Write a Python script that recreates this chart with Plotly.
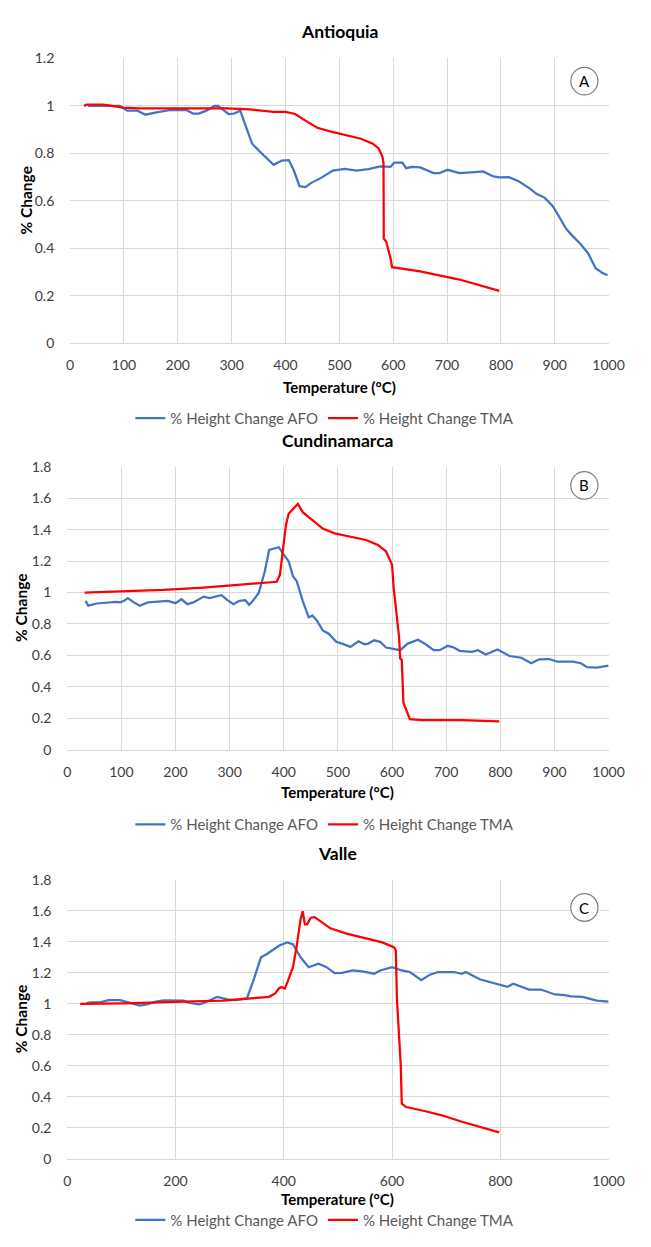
import plotly.graph_objects as go

# ---------------- Data ----------------
# Panel A - Antioquia
a_afo_t = [33, 92, 106, 125, 140, 158, 187, 217, 228, 239, 253, 268, 275, 294, 305, 316, 327, 338, 356, 378,
           393, 406, 415, 426, 437, 448, 466, 488, 510, 532, 554, 576, 595, 602, 617, 624, 635, 650, 675, 686,
           701, 723, 745, 767, 786, 797, 815, 833, 852, 866, 881, 896, 907, 921, 932, 947, 962, 976, 988, 998]
a_afo_v = [1.0, 1.0, 0.98, 0.98, 0.963, 0.972, 0.983, 0.982, 0.968, 0.968, 0.98, 1.0, 1.0, 0.966, 0.968, 0.98,
           0.91, 0.841, 0.80, 0.752, 0.77, 0.772, 0.731, 0.662, 0.658, 0.676, 0.697, 0.728, 0.735, 0.728, 0.734,
           0.745, 0.743, 0.761, 0.761, 0.738, 0.743, 0.741, 0.717, 0.717, 0.731, 0.717, 0.72, 0.724, 0.703, 0.699,
           0.70, 0.683, 0.655, 0.63, 0.614, 0.579, 0.538, 0.483, 0.455, 0.421, 0.379, 0.317, 0.297, 0.287]
a_tma_t = [26, 30, 62, 99, 128, 246, 290, 334, 378, 400, 418, 437, 459, 481, 510, 540, 562, 573, 580, 582,
           582.5, 587, 595, 598, 650, 723, 797]
a_tma_v = [1.0, 1.005, 1.005, 0.993, 0.99, 0.99, 0.99, 0.985, 0.975, 0.975, 0.966, 0.938, 0.908, 0.894, 0.879,
           0.862, 0.841, 0.821, 0.786, 0.759, 0.441, 0.428, 0.359, 0.321, 0.303, 0.269, 0.221]

# Panel B - Cundinamarca
b_afo_t = [34, 39, 54, 76, 90, 98, 105, 112, 123, 134, 149, 186, 200, 211, 222, 233, 252, 263, 285, 296, 307,
           318, 329, 336, 343, 354, 365, 373, 391, 398, 409, 417, 424, 435, 446, 453, 461, 472, 483, 497, 508,
           523, 538, 549, 556, 567, 578, 589, 600, 615, 629, 648, 662, 677, 688, 703, 714, 725, 747, 759, 773,
           795, 817, 839, 857, 872, 890, 905, 934, 949, 960, 978, 1000]
b_afo_v = [0.947, 0.916, 0.93, 0.937, 0.941, 0.937, 0.947, 0.964, 0.937, 0.916, 0.937, 0.947, 0.932, 0.957,
           0.926, 0.937, 0.974, 0.964, 0.983, 0.951, 0.926, 0.947, 0.951, 0.922, 0.947, 0.999, 1.135, 1.271,
           1.288, 1.25, 1.198, 1.104, 1.072, 0.947, 0.842, 0.853, 0.822, 0.759, 0.738, 0.686, 0.675, 0.654,
           0.69, 0.671, 0.675, 0.696, 0.686, 0.65, 0.644, 0.633, 0.675, 0.70, 0.671, 0.633, 0.633, 0.661, 0.65,
           0.629, 0.623, 0.633, 0.606, 0.638, 0.596, 0.585, 0.55, 0.575, 0.577, 0.56, 0.56, 0.55, 0.525, 0.523,
           0.535]
b_tma_t = [32, 105, 178, 252, 325, 369, 387, 393, 398, 404, 409, 417, 426, 435, 450, 472, 494, 523, 552, 574,
           589, 600, 603, 608, 613, 615, 618, 621, 626, 633, 655, 729, 798]
b_tma_v = [0.999, 1.006, 1.016, 1.031, 1.052, 1.062, 1.068, 1.114, 1.261, 1.428, 1.501, 1.528, 1.564, 1.511,
           1.47, 1.407, 1.376, 1.355, 1.334, 1.302, 1.261, 1.177, 1.031, 0.874, 0.717, 0.581, 0.571, 0.299,
           0.257, 0.194, 0.188, 0.188, 0.18]

# Panel C - Valle
c_afo_t = [35, 43, 61, 76, 98, 112, 134, 149, 164, 178, 215, 226, 244, 255, 277, 296, 310, 332, 343, 358, 369,
           391, 406, 417, 431, 446, 464, 479, 494, 508, 527, 545, 567, 578, 600, 618, 633, 654, 670, 685, 714,
           729, 736, 762, 780, 802, 813, 824, 839, 853, 875, 901, 919, 930, 952, 978, 1000]
c_afo_v = [1.004, 1.01, 1.01, 1.025, 1.025, 1.01, 0.989, 0.998, 1.015, 1.023, 1.021, 1.006, 0.998, 1.01, 1.046,
           1.029, 1.025, 1.036, 1.142, 1.301, 1.322, 1.375, 1.397, 1.386, 1.301, 1.237, 1.259, 1.237, 1.199,
           1.201, 1.216, 1.21, 1.195, 1.216, 1.237, 1.216, 1.206, 1.153, 1.189, 1.206, 1.206, 1.195, 1.206,
           1.159, 1.142, 1.121, 1.11, 1.131, 1.11, 1.093, 1.093, 1.061, 1.057, 1.049, 1.046, 1.021, 1.015]
c_tma_t = [24, 105, 215, 288, 340, 373, 384, 391, 396, 402, 407, 417, 424, 428, 431, 435, 439, 443, 450, 457,
           472, 486, 516, 545, 582, 604, 607, 609, 613, 616, 618, 626, 662, 692, 729, 765, 798]
c_tma_v = [1.0, 1.004, 1.015, 1.021, 1.036, 1.046, 1.068, 1.10, 1.11, 1.10, 1.142, 1.237, 1.375, 1.492, 1.545,
           1.598, 1.513, 1.513, 1.556, 1.56, 1.524, 1.488, 1.454, 1.428, 1.397, 1.365, 1.344, 1.036, 0.76, 0.611,
           0.357, 0.335, 0.308, 0.282, 0.24, 0.204, 0.172]

titles = ["Antioquia", "Cundinamarca", "Valle"]
badges = ["A", "B", "C"]
afo_name = "% Height Change AFO"
tma_name = "% Height Change TMA"
x_title = "Temperature (°C)"
y_title = "% Change"

# ---------------- Layout helpers ----------------
# The page body keeps its default 8px margin, so the figure is sized to fit
# exactly inside the 651x1247 window; positions below are window pixels.
BODY_M = 8
W, H = 651 - 2 * BODY_M, 1247 - 2 * BODY_M
FONT = "Lato, 'Open Sans', sans-serif"
BLUE = "#4472C4"
RED = "#FF0000"
GRID = "#D9D9D9"
TICKC = "#404040"
LEGC = "#595959"


def py(px):
    return 1 - (px - BODY_M) / H


def pxx(px):
    return (px - BODY_M) / W


panels = [
    dict(t_afo=a_afo_t, v_afo=a_afo_v, t_tma=a_tma_t, v_tma=a_tma_v, xl=68, xr=624, yt=50, yb=339,
         ymax=1.2, xdt=100, title_y=23, xt_y=383, leg_y=415, yt_x=22, badge_y=73),
    dict(t_afo=b_afo_t, v_afo=b_afo_v, t_tma=b_tma_t, v_tma=b_tma_v, xl=65, xr=624, yt=464, yb=751,
         ymax=1.8, xdt=100, title_y=437, xt_y=794, leg_y=827, yt_x=18, badge_y=483),
    dict(t_afo=c_afo_t, v_afo=c_afo_v, t_tma=c_tma_t, v_tma=c_tma_v, xl=65, xr=624, yt=883, yb=1166,
         ymax=1.8, xdt=200, title_y=856, xt_y=1207, leg_y=1228, yt_x=18, badge_y=911),
]

fig = go.Figure()
annotations = []
shapes = []
layout_upd = {}

for i, p in enumerate(panels):
    n = "" if i == 0 else str(i + 1)
    xa, ya = "x" + n, "y" + n
    leg = "legend" + n
    fig.add_trace(go.Scatter(x=p["t_afo"], y=p["v_afo"], mode="lines", name=afo_name,
                             line=dict(color=BLUE, width=2.25), xaxis=xa, yaxis=ya, legend=leg))
    fig.add_trace(go.Scatter(x=p["t_tma"], y=p["v_tma"], mode="lines", name=tma_name,
                             line=dict(color=RED, width=2.25), xaxis=xa, yaxis=ya, legend=leg))
    layout_upd["xaxis" + n] = dict(
        domain=[pxx(p["xl"]), pxx(p["xr"])], anchor=ya, range=[0, 1000], dtick=p["xdt"], tick0=0,
        showgrid=True, gridcolor=GRID, gridwidth=1, zeroline=False, showline=True, linecolor=GRID,
        ticks="outside", ticklen=9, tickcolor="rgba(0,0,0,0)",
        tickfont=dict(family=FONT, size=14, color=TICKC), fixedrange=True)
    layout_upd["yaxis" + n] = dict(
        domain=[py(p["yb"]), py(p["yt"])], anchor=xa, range=[0, p["ymax"]], dtick=0.2, tick0=0,
        showgrid=True, gridcolor=GRID, gridwidth=1, zeroline=False, showline=False,
        ticks="outside", ticklen=12, tickcolor="rgba(0,0,0,0)",
        tickfont=dict(family=FONT, size=14, color=TICKC), fixedrange=True)
    layout_upd[leg] = dict(orientation="h", x=pxx(331), xanchor="center", y=py(p["leg_y"]), yanchor="middle",
                           font=dict(family=FONT, size=15, color=LEGC), bgcolor="rgba(0,0,0,0)",
                           itemwidth=30, tracegroupgap=0)
    cx = (p["xl"] + p["xr"]) / 2
    annotations.append(dict(text="<b>%s</b>" % titles[i], x=pxx(cx), y=py(p["title_y"]), xref="paper",
                            yref="paper", showarrow=False, xanchor="center", yanchor="middle",
                            font=dict(family=FONT, size=17.5, color="#000000")))
    annotations.append(dict(text="<b>%s</b>" % x_title, x=pxx(cx), y=py(p["xt_y"]), xref="paper",
                            yref="paper", showarrow=False, xanchor="center", yanchor="middle",
                            font=dict(family=FONT, size=15, color="#000000")))
    annotations.append(dict(text="<b>%s</b>" % y_title, x=pxx(p["yt_x"]), y=py((p["yt"] + p["yb"]) / 2),
                            xref="paper", yref="paper", showarrow=False, textangle=-90,
                            xanchor="center", yanchor="middle",
                            font=dict(family=FONT, size=15.5, color="#000000")))
    bx, by, r = 599, p["badge_y"], 14
    shapes.append(dict(type="circle", xref="paper", yref="paper", x0=pxx(bx - r), x1=pxx(bx + r),
                       y0=py(by + r), y1=py(by - r), line=dict(color="#7F7F7F", width=1.2),
                       fillcolor="white"))
    annotations.append(dict(text=badges[i], x=pxx(bx), y=py(by), xref="paper", yref="paper",
                            showarrow=False, xanchor="center", yanchor="middle",
                            font=dict(family=FONT, size=15, color="#000000")))

fig.update_layout(
    width=W, height=H, margin=dict(l=0, r=0, t=0, b=0),
    paper_bgcolor="white", plot_bgcolor="white", showlegend=True,
    annotations=annotations, shapes=shapes, **layout_upd)

fig.write_html("out.html")
